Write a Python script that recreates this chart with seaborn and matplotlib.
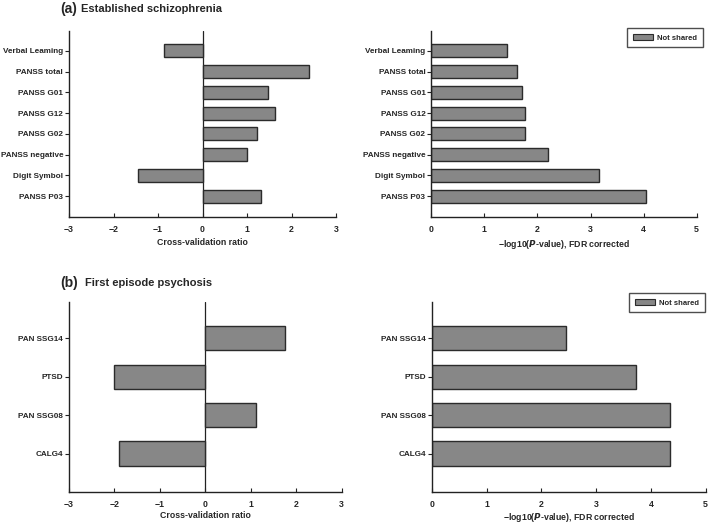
import matplotlib
matplotlib.use("Agg")
import matplotlib.pyplot as plt
import seaborn as sns
import pandas as pd
from matplotlib.patches import Patch

sns.set_theme(style="white")
plt.rcParams['font.family'] = ['Liberation Sans', 'DejaVu Sans']
plt.rcParams['font.weight'] = 'bold'

# Panel (a) data
cats_a = ["Verbal Leaming", "PANSS total", "PANSS G01", "PANSS G12",
          "PANSS G02", "PANSS negative", "Digit Symbol", "PANSS P03"]
cv_a = [-0.86, 2.40, 1.47, 1.63, 1.22, 0.99, -1.45, 1.32]
logp_a = [1.42, 1.61, 1.70, 1.76, 1.76, 2.20, 3.15, 4.04]

# Panel (b) data
cats_b = ["PAN SSG14", "PTSD", "PAN SSG08", "CALG4"]
cv_b = [1.76, -2.00, 1.12, -1.89]
logp_b = [2.44, 3.72, 4.35, 4.35]

cv_ticks = [-3, -2, -1, 0, 1, 2, 3]
p_ticks = [0, 1, 2, 3, 4, 5]

BAR = "#878787"
EDGE = "#2b2b2b"
FS = 5.85

fig = plt.figure(figsize=(7.09, 5.24), dpi=100)
W, H = 709, 524

def axes_px(l, t, r, b):
    return fig.add_axes([l / W, 1 - b / H, (r - l) / W, (b - t) / H])

ax1 = axes_px(69, 31, 336, 217)
ax2 = axes_px(431.3, 31, 696.7, 217)
ax3 = axes_px(69, 301.7, 341.7, 492)
ax4 = axes_px(432, 301.7, 705.7, 492)

def draw(ax, cats, vals, xlim, ticks, xlabel, zero_line, legend_at=None, lpad=3):
    df = pd.DataFrame({"cat": cats, "val": vals})
    sns.barplot(data=df, x="val", y="cat", orient="h", color=BAR,
                edgecolor=EDGE, linewidth=1.0, width=0.63, saturation=1,
                ax=ax)
    n = len(cats)
    ax.set_ylim(n - 1 + 1.0, -0.95)
    ax.set_xlim(*xlim)
    ax.set_xticks(ticks)
    ax.set_xticklabels([str(t).replace("-", "\u2212") for t in ticks],
                       fontsize=6.3, fontweight="bold")
    ax.set_yticks(range(n))
    ax.set_yticklabels(cats, fontsize=FS, fontweight="bold")
    ax.set_ylabel("")
    ax.set_xlabel(xlabel, fontsize=6.3, fontweight="bold", labelpad=lpad)
    for s in ["top", "right"]:
        ax.spines[s].set_visible(False)
    for s in ["left", "bottom"]:
        ax.spines[s].set_color("#222222")
        ax.spines[s].set_linewidth(1.0)
    ax.tick_params(axis="y", direction="out", length=3, width=0.8,
                   color="#222222", pad=1.2, left=True)
    ax.tick_params(axis="x", direction="in", length=3, width=0.8,
                   color="#222222", pad=5.5, bottom=True)
    if zero_line:
        ax.axvline(0, color="#222222", lw=0.9, zorder=0)
    if legend_at is not None:
        h = Patch(facecolor=BAR, edgecolor=EDGE, linewidth=0.8, label="Not shared")
        x, y = legend_at
        leg = ax.legend(handles=[h], loc="upper right", fontsize=5.5,
                        frameon=True, fancybox=False, edgecolor="#222222",
                        borderpad=0.75, handlelength=2.6, handleheight=0.9,
                        handletextpad=0.6, borderaxespad=0,
                        bbox_to_anchor=(x / W, 1 - y / H),
                        bbox_transform=fig.transFigure)
        leg.get_frame().set_linewidth(1.0)
        for t in leg.get_texts():
            t.set_fontweight("bold")

xl_cv = "Cross-validation ratio"
xl_p = "\u2212log10($\\bfit{P}$-value), FDR corrected"

draw(ax1, cats_a, cv_a, (-3, 3), cv_ticks, xl_cv, True)
draw(ax2, cats_a, logp_a, (0, 5), p_ticks, xl_p, False, (703, 28))
draw(ax3, cats_b, cv_b, (-3, 3), cv_ticks, xl_cv, True, lpad=2)
draw(ax4, cats_b, logp_b, (0, 5), p_ticks, xl_p, False, (705, 293), lpad=2)

fig.text(60 / W, 1 - 9 / H, "(a)", fontsize=10, fontweight="bold", va="center")
fig.text(81 / W, 1 - 9.5 / H, "Established schizophrenia", fontsize=8,
         fontweight="bold", va="center")
fig.text(60 / W, 1 - 282.5 / H, "(b)", fontsize=10, fontweight="bold", va="center")
fig.text(85 / W, 1 - 283 / H, "First episode psychosis", fontsize=8,
         fontweight="bold", va="center")

fig.savefig("out.png", dpi=100)
